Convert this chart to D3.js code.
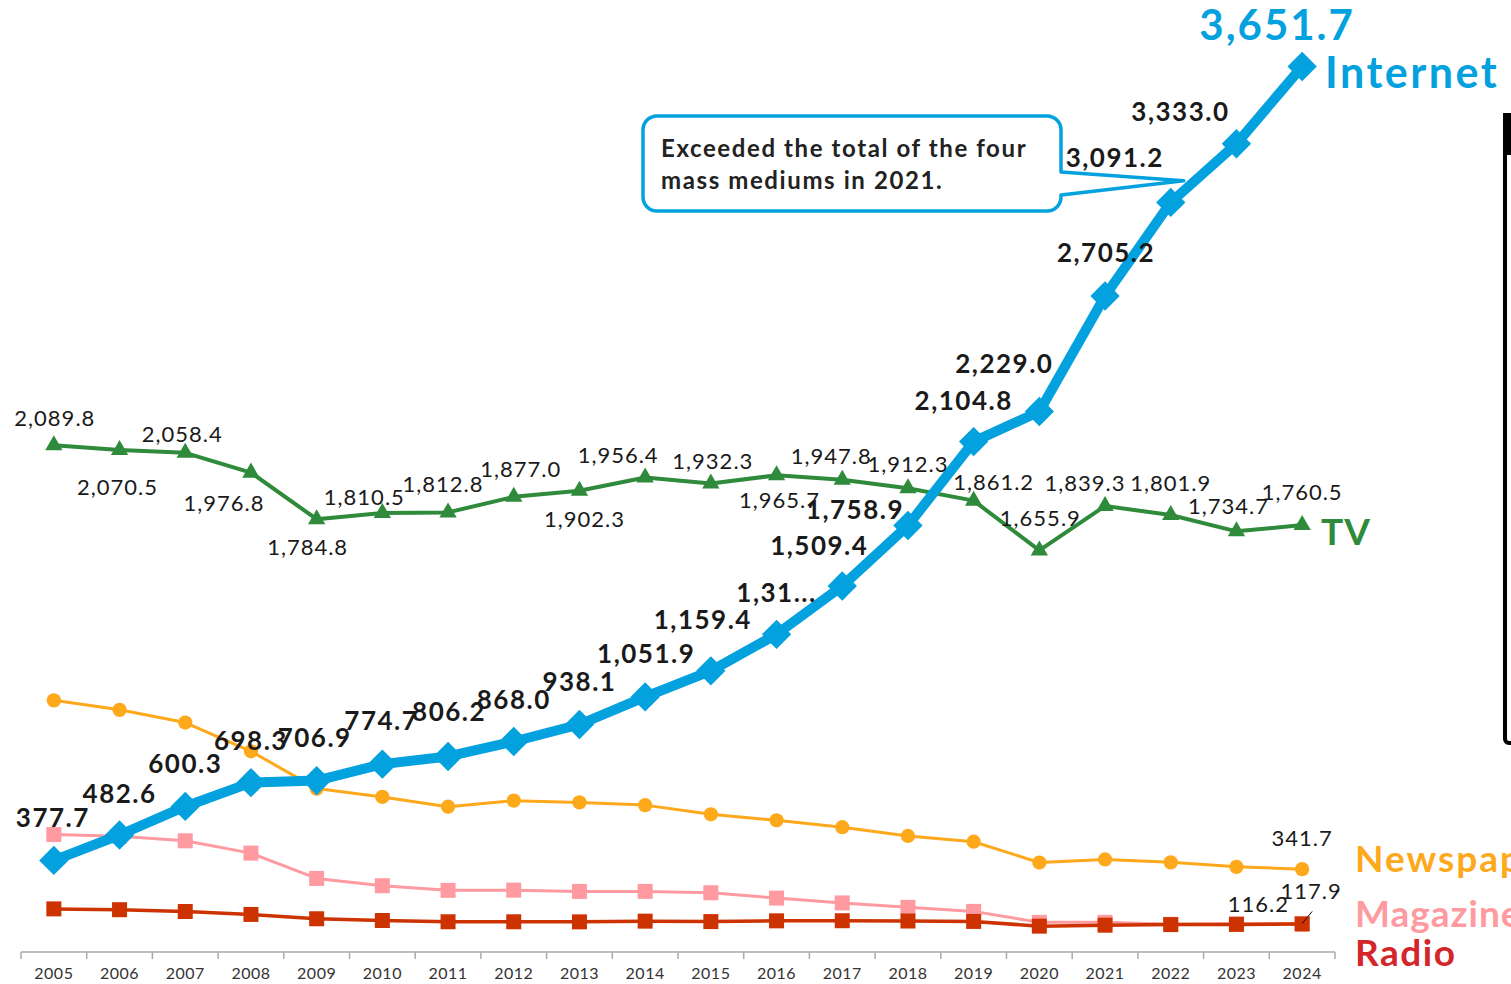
<!DOCTYPE html>
<html>
<head>
<meta charset="utf-8">
<script src="https://cdn.jsdelivr.net/npm/d3@7"></script>
<style>
  html, body { margin: 0; padding: 0; background: #fff; overflow: hidden; }
  svg { display: block; font-family: Lato, "Noto Sans", sans-serif; }
</style>
</head>
<body>
<svg id="chart" width="1511" height="984"></svg>
<script>
// Advertising expenditure by medium (unit: 10 billion yen)
const years = [2005, 2006, 2007, 2008, 2009, 2010, 2011, 2012, 2013, 2014,
               2015, 2016, 2017, 2018, 2019, 2020, 2021, 2022, 2023, 2024];

const internet  = [377.7, 482.6, 600.3, 698.3, 706.9, 774.7, 806.2, 868.0, 938.1, 1051.9,
                   1159.4, 1310.0, 1509.4, 1758.9, 2104.8, 2229.0, 2705.2, 3091.2, 3333.0, 3651.7];
const tv        = [2089.8, 2070.5, 2058.4, 1976.8, 1784.8, 1810.5, 1812.8, 1877.0, 1902.3, 1956.4,
                   1932.3, 1965.7, 1947.8, 1912.3, 1861.2, 1655.9, 1839.3, 1801.9, 1734.7, 1760.5];
const newspaper = [1037.7, 998.6, 946.2, 827.6, 673.9, 639.6, 599.0, 624.2, 617.0, 605.7,
                   567.9, 543.1, 514.7, 478.4, 454.7, 368.8, 381.5, 369.7, 351.2, 341.7];
const magazine  = [484.2, 477.7, 458.5, 407.8, 303.4, 273.3, 254.2, 255.1, 249.9, 250.0,
                   244.3, 222.3, 202.3, 184.1, 167.5, 122.3, 122.4, 114.0, 116.2, 117.9];
const radio     = [177.8, 174.4, 167.1, 154.9, 137.0, 129.9, 124.7, 124.6, 124.3, 127.2,
                   125.4, 128.5, 129.0, 127.8, 126.0, 106.6, 110.6, 112.9, 113.9, 115.3];

const seriesNames = ["Internet", "TV", "Newspaper", "Magazine", "Radio"];
const calloutLines = ["Exceeded the total of the four", "mass mediums in 2021."];

// Label nudges (dx, dy from the marker centre) to keep value labels readable
const internetLabelNudge = [[-1,-33],[0,-32],[0,-33],[0,-33],[-2,-34],[-1,-34],[1,-35],[0,-33],[0,-34],[1,-34],
                            [-8,-42],[0,-32],[-23,-31],[-53,-6],[-10,-32],[-35,-38],[1,-34],[-56,-35],[-56,-23],[-25,-26]];
const tvLabelNudge = [[1,-19],[-2,45],[-3,-11],[-27,38],[-9,36],[-18,-8],[-5,-20],[7,-20],[5,36],[-27,-15],
                      [2,-14],[3,33],[-11,-16],[0,-16],[20,-11],[1,-24],[-20,-15],[0,-24],[-8,-17],[0,-25]];

const fmt = d3.format(",.1f");
const fmtLabel = (v, i) => {
  const s = fmt(v);
  return years[i] === 2016 ? s.slice(0, 4) + "..." : s; // label clipped in its slot
};

const svg = d3.select("#chart");
const x = d3.scaleBand().domain(years).range([21, 1335]);
const cx = d => x(d) + x.bandwidth() / 2;
const y = d3.scaleLinear().domain([0, 3900]).range([952, 952 - 3900 * 0.2425]);

const colors = {
  internet: "#04a1df", tv: "#2f8b3b", newspaper: "#fea81c",
  magazine: "#fe9aa0", radio: "#cc3300", radioText: "#d3262b", text: "#1a1a1a"
};

// x axis: baseline and boundary ticks
const axis = svg.append("g");
axis.append("line").attr("x1", 21).attr("x2", 1335).attr("y1", 952).attr("y2", 952)
  .attr("stroke", "#aaa").attr("stroke-width", 1.5);
const bounds = years.map(d => x(d)).concat([x(years[years.length - 1]) + x.bandwidth()]);
axis.selectAll("line.tick").data(bounds).join("line").attr("class", "tick")
  .attr("x1", d => d).attr("x2", d => d).attr("y1", 952).attr("y2", 959)
  .attr("stroke", "#aaa").attr("stroke-width", 1.5);
const xAxis = svg.append("g").attr("transform", "translate(0,952)")
  .call(d3.axisBottom(x).tickSize(0).tickPadding(16));
xAxis.select(".domain").remove();
xAxis.selectAll("text").attr("font-size", 16).attr("fill", "#333")
  .attr("font-family", "Lato, sans-serif").attr("letter-spacing", 0.5);

// lines and markers
function drawSeries(values, color, width, symbolType, symbolSize, rotate) {
  const pts = values.map((v, i) => [cx(years[i]), y(v)]);
  const g = svg.append("g");
  g.append("path").attr("d", d3.line()(pts)).attr("fill", "none")
    .attr("stroke", color).attr("stroke-width", width).attr("stroke-linejoin", "round");
  g.selectAll("path.m").data(pts).join("path").attr("class", "m")
    .attr("d", d3.symbol(symbolType, symbolSize)())
    .attr("transform", p => `translate(${p[0]},${p[1]}) rotate(${rotate || 0})`)
    .attr("fill", color);
  return pts;
}

drawSeries(newspaper, colors.newspaper, 3, d3.symbolCircle, 160);
drawSeries(magazine, colors.magazine, 3, d3.symbolSquare, 225);
drawSeries(radio, colors.radio, 3.5, d3.symbolSquare, 225);
const tvPts = drawSeries(tv, colors.tv, 4, d3.symbolTriangle, 130);
const netPts = drawSeries(internet, colors.internet, 10, d3.symbolSquare, 430, 45);

// TV value labels
svg.append("g").selectAll("text").data(tv).join("text")
  .attr("x", (v, i) => tvPts[i][0] + tvLabelNudge[i][0])
  .attr("y", (v, i) => tvPts[i][1] + tvLabelNudge[i][1])
  .attr("text-anchor", "middle").attr("font-size", 22).attr("letter-spacing", 1)
  .attr("fill", colors.text)
  .text(v => fmt(v));

// Internet value labels (last one highlighted)
svg.append("g").selectAll("text").data(internet).join("text")
  .attr("x", (v, i) => netPts[i][0] + internetLabelNudge[i][0])
  .attr("y", (v, i) => netPts[i][1] + internetLabelNudge[i][1])
  .attr("text-anchor", "middle")
  .attr("font-weight", 700)
  .attr("font-size", (v, i) => i === internet.length - 1 ? 42 : 26)
  .attr("letter-spacing", (v, i) => i === internet.length - 1 ? 2 : 1.5)
  .attr("fill", (v, i) => i === internet.length - 1 ? colors.internet : colors.text)
  .text((v, i) => fmtLabel(v, i));

// small end labels for the print media
const last = years.length - 1;
const smallLabel = (px, py, v) => svg.append("text").attr("x", px).attr("y", py)
  .attr("text-anchor", "middle").attr("font-size", 22).attr("letter-spacing", 1)
  .attr("fill", colors.text).text(fmt(v));
smallLabel(cx(years[last]), y(newspaper[last]) - 23, newspaper[last]);
smallLabel(cx(years[last - 1]) + 22, y(magazine[last - 1]) - 12, magazine[last - 1]);
smallLabel(cx(years[last]) + 9, y(magazine[last]) - 24, magazine[last]);
svg.append("line")
  .attr("x1", cx(years[last])).attr("y1", y(magazine[last]))
  .attr("x2", cx(years[last]) + 10).attr("y2", y(magazine[last]) - 12)
  .attr("stroke", "#111").attr("stroke-width", 1);

// series name labels at the right end
const nameLabels = [
  { text: seriesNames[0], x: 1325, y: y(internet[last]) + 22, size: 43, ls: 2.5, color: colors.internet },
  { text: seriesNames[1], x: 1321, y: y(tv[last]) + 20, size: 37, ls: 1, color: colors.tv },
  { text: seriesNames[2], x: 1355, y: y(newspaper[last]) + 3, size: 37, ls: 2, color: colors.newspaper },
  { text: seriesNames[3], x: 1355, y: y(magazine[last]) + 4, size: 37, ls: 1, color: colors.magazine },
  { text: seriesNames[4], x: 1355, y: y(radio[last]) + 42, size: 37, ls: 1.5, color: colors.radioText }
];
svg.append("g").selectAll("text").data(nameLabels).join("text")
  .attr("x", d => d.x).attr("y", d => d.y).attr("font-size", d => d.size)
  .attr("letter-spacing", d => d.ls)
  .attr("font-weight", 700).attr("fill", d => d.color).text(d => d.text);

// callout bubble pointing at the 2021-2022 rise
const bx0 = 643, by0 = 116, bx1 = 1061, by1 = 211, r = 14;
const tipX = cx(2022) + 13, tipY = y(3180);
const bubble = d3.path();
bubble.moveTo(bx0 + r, by0);
bubble.lineTo(bx1 - r, by0);
bubble.arcTo(bx1, by0, bx1, by0 + r, r);
bubble.lineTo(bx1, 172);
bubble.lineTo(tipX, tipY);
bubble.lineTo(bx1, 195);
bubble.lineTo(bx1, by1 - r);
bubble.arcTo(bx1, by1, bx1 - r, by1, r);
bubble.lineTo(bx0 + r, by1);
bubble.arcTo(bx0, by1, bx0, by1 - r, r);
bubble.lineTo(bx0, by0 + r);
bubble.arcTo(bx0, by0, bx0 + r, by0, r);
bubble.closePath();
svg.append("path").attr("d", bubble.toString()).attr("fill", "#fff")
  .attr("stroke", colors.internet).attr("stroke-width", 3.5).attr("stroke-linejoin", "round");
svg.append("g").selectAll("text").data(calloutLines).join("text")
  .attr("x", 661).attr("y", (d, i) => 157 + i * 32)
  .attr("font-size", 24).attr("font-weight", 700).attr("letter-spacing", 1.6)
  .attr("fill", "#222").text(d => d);

// edge of the neighbouring panel
svg.append("rect").attr("x", 1505).attr("y", 115).attr("width", 40).attr("height", 628)
  .attr("rx", 4).attr("fill", "none").attr("stroke", "#000").attr("stroke-width", 4);
svg.append("rect").attr("x", 1503).attr("y", 113).attr("width", 10).attr("height", 42)
  .attr("fill", "#000");
</script>
</body>
</html>
